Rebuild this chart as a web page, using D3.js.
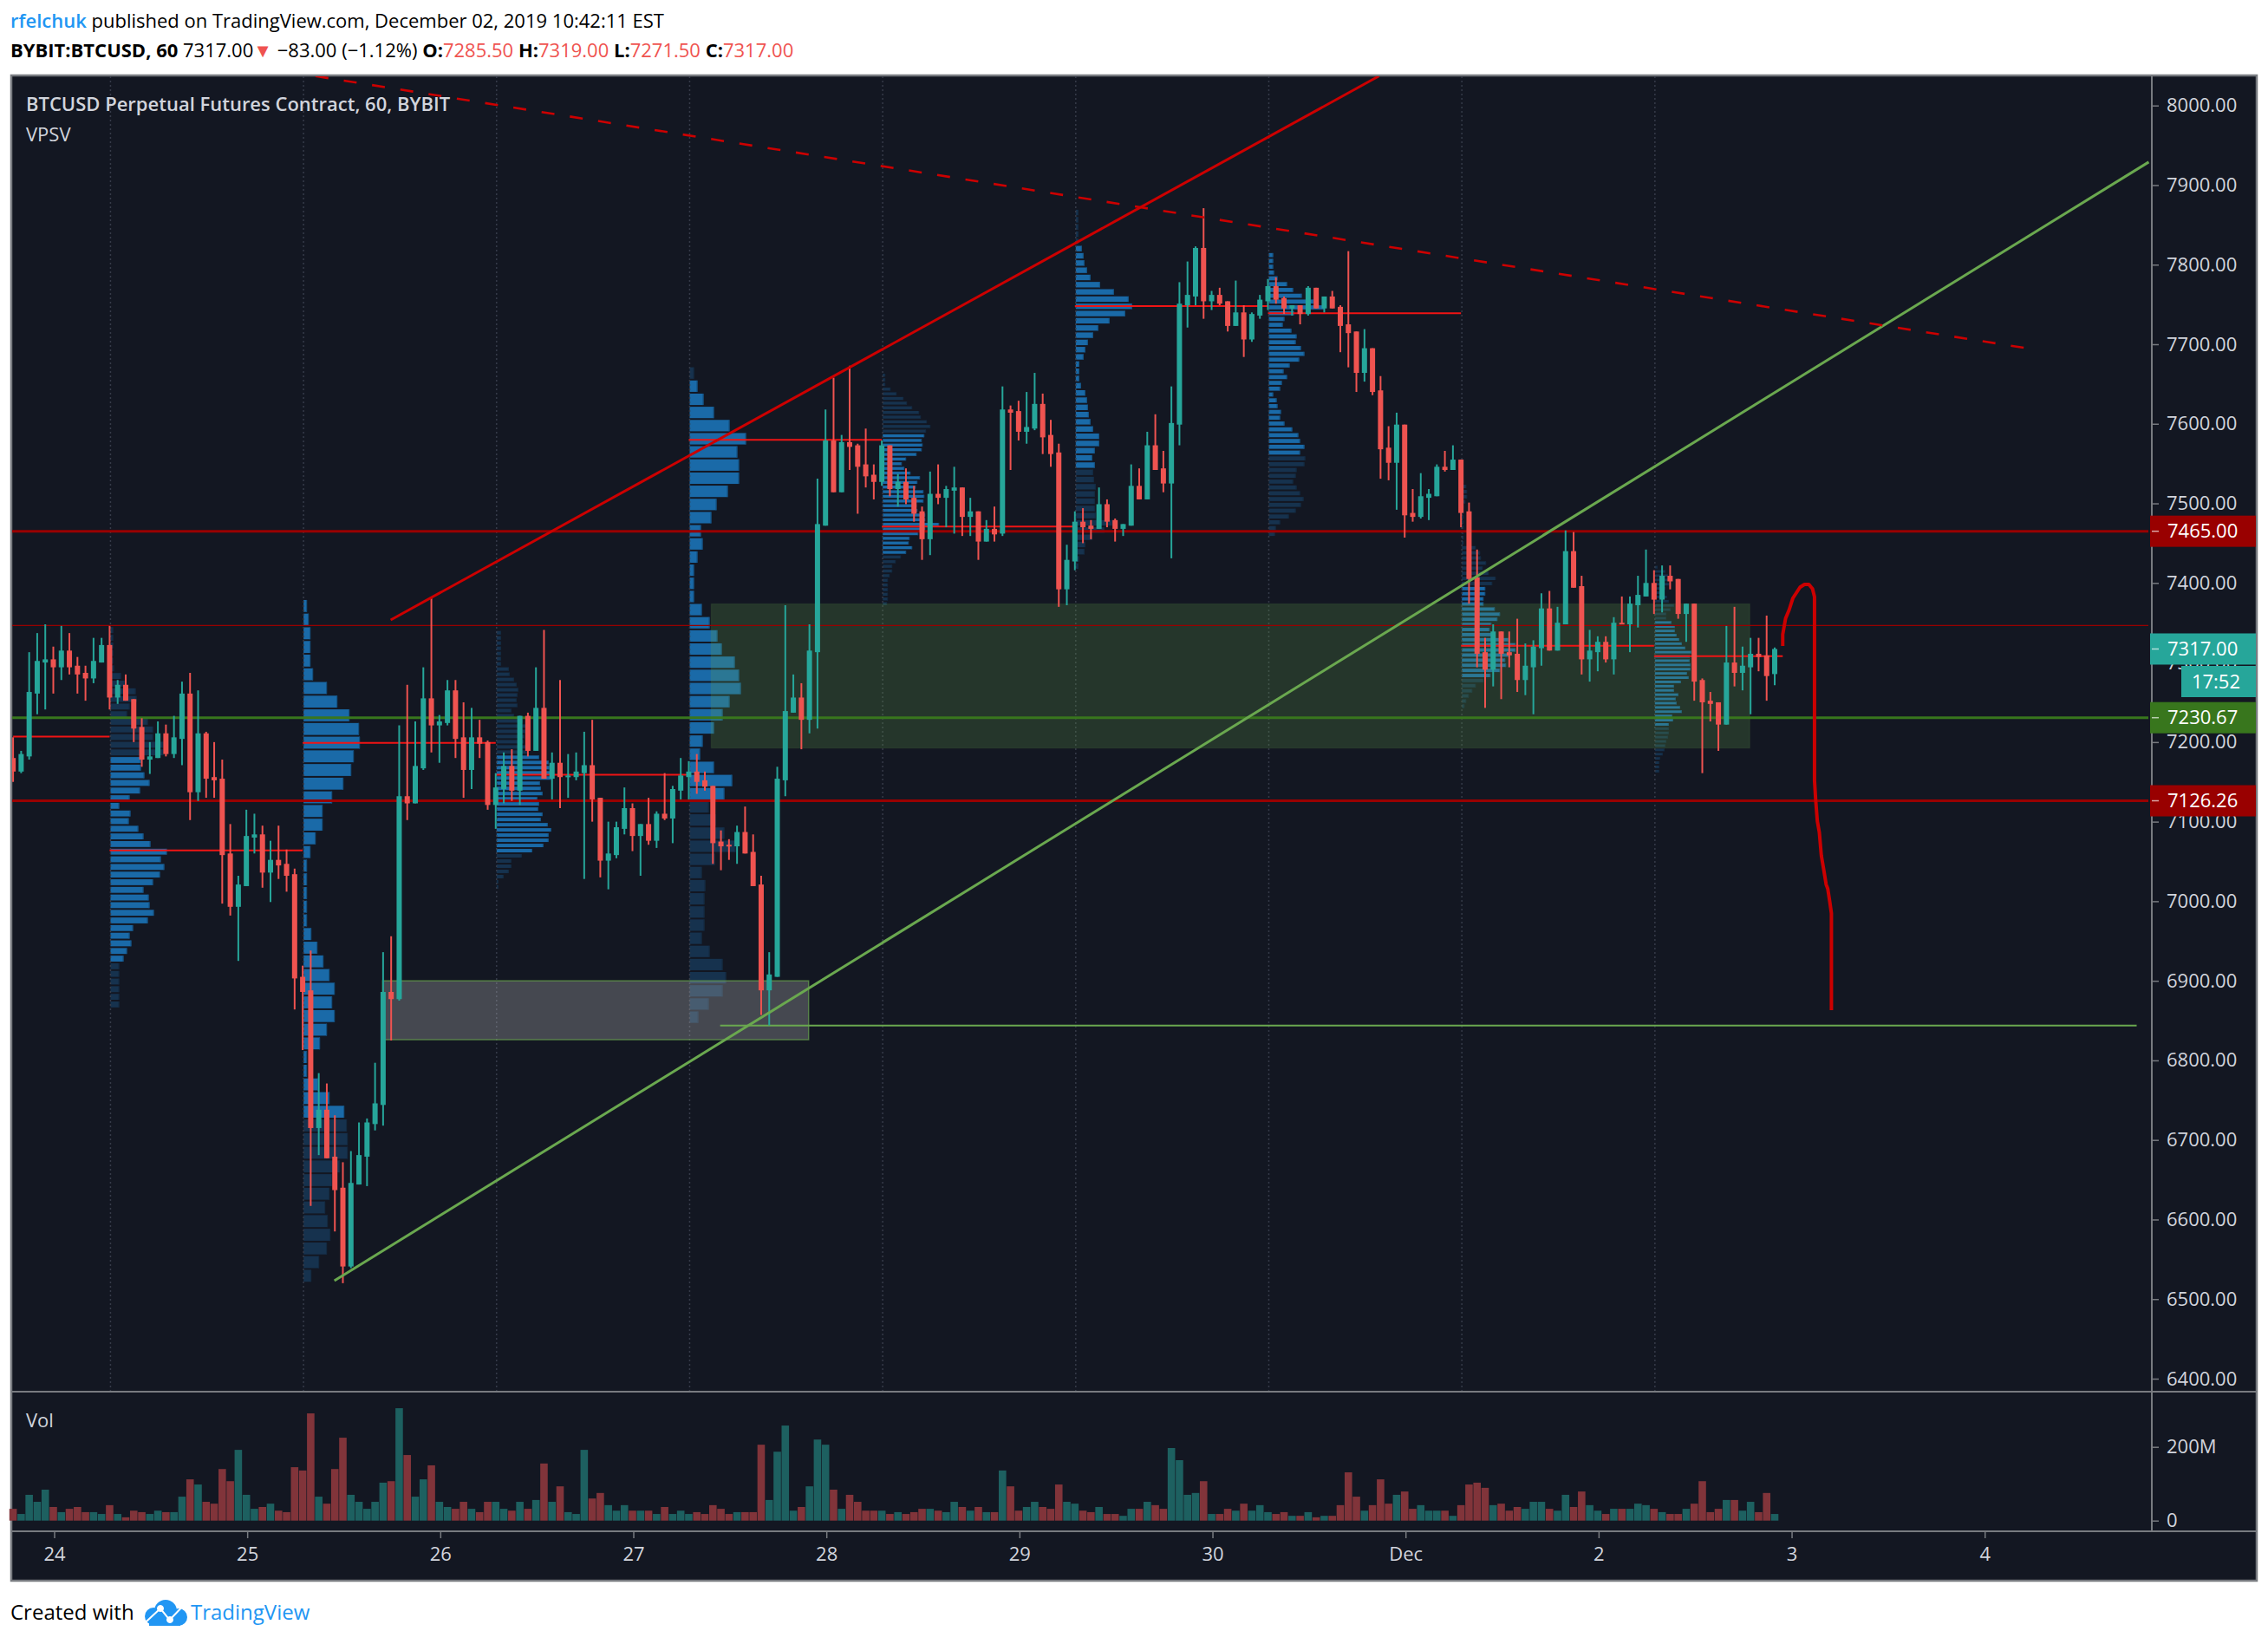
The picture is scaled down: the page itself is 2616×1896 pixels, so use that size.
<!DOCTYPE html>
<html><head><meta charset="utf-8">
<script src="https://cdn.jsdelivr.net/npm/d3@7/dist/d3.min.js"></script>
<style>html,body{margin:0;padding:0;background:#fff}svg{display:block}</style>
</head><body><svg id="c" width="2616" height="1896"></svg>
<script>
// Hourly candles, bar -5 .. 214 : [open, high, low, close]
const firstBar = -5;
const ohlc = [
[7180,7206,7150,7163],[7163,7189,7161,7185],[7182,7313,7178,7263],[7261,7337,7235,7302],[7300,7348,7241,7304],
[7304,7320,7261,7294],[7294,7346,7278,7315],[7315,7337,7285,7294],[7296,7307,7261,7285],[7287,7296,7252,7280],
[7280,7331,7274,7302],[7300,7331,7300,7322],[7322,7346,7241,7256],[7256,7278,7248,7272],[7272,7285,7252,7252],
[7254,7254,7200,7217],[7219,7230,7169,7178],[7178,7200,7160,7182],[7180,7226,7180,7211],[7211,7222,7182,7185],
[7185,7233,7180,7206],[7204,7276,7171,7261],[7261,7287,7102,7137],[7137,7265,7126,7211],[7211,7213,7130,7154],
[7156,7200,7130,7152],[7154,7178,6997,7058],[7060,7097,6982,6993],[6993,7032,6925,7021],[7019,7115,7019,7082],
[7080,7110,7060,7084],[7084,7095,7017,7036],[7036,7076,6999,7052],[7052,7095,7028,7045],[7047,7065,7012,7032],
[7034,7041,6864,6903],[6905,6919,6813,6886],[6888,6938,6617,6715],[6715,6784,6681,6738],[6738,6771,6677,6677],
[6679,6731,6585,6637],[6640,6672,6520,6541],[6541,6686,6539,6646],[6644,6722,6644,6681],[6679,6727,6642,6722],
[6720,6797,6712,6746],[6744,6936,6718,6886],[6886,6956,6825,6877],[6877,7221,6875,7132],[7132,7272,7102,7123],
[7123,7226,7123,7170],[7167,7294,7165,7255],[7255,7381,7187,7221],[7221,7234,7174,7226],[7224,7278,7221,7265],
[7265,7278,7180,7204],[7206,7250,7130,7165],[7165,7243,7141,7206],[7206,7228,7180,7198],[7200,7202,7115,7121],
[7121,7161,7091,7143],[7141,7187,7123,7170],[7170,7191,7126,7139],[7139,7233,7121,7233],[7233,7237,7182,7189],
[7189,7294,7189,7243],[7243,7341,7154,7154],[7154,7187,7128,7174],[7174,7278,7117,7156],[7156,7185,7130,7158],
[7156,7187,7152,7163],[7161,7213,7028,7171],[7171,7228,7100,7128],[7130,7130,7030,7051],[7051,7100,7015,7060],
[7058,7100,7054,7093],[7091,7143,7084,7117],[7117,7123,7063,7082],[7082,7097,7032,7097],[7097,7130,7071,7076],
[7076,7113,7067,7110],[7110,7161,7102,7104],[7104,7145,7073,7141],[7139,7180,7128,7158],[7156,7176,7128,7163],
[7163,7185,7135,7150],[7152,7163,7139,7144],[7145,7145,7047,7073],[7075,7089,7039,7069],[7071,7078,7052,7069],
[7069,7095,7047,7087],[7087,7119,7060,7060],[7062,7084,7019,7019],[7021,7032,6857,6888],[6888,6936,6844,6908],
[6905,7169,6905,7154],[7152,7372,7132,7239],[7237,7285,7237,7256],[7256,7274,7191,7228],[7228,7348,7211,7315],
[7313,7531,7217,7474],[7472,7618,7472,7579],[7579,7658,7514,7514],[7514,7586,7514,7577],[7577,7673,7542,7571],
[7573,7575,7487,7546],[7549,7594,7520,7534],[7536,7549,7505,7527],[7527,7579,7522,7573],[7573,7573,7509,7518],
[7518,7537,7496,7527],[7527,7544,7499,7505],[7507,7522,7477,7487],[7490,7496,7429,7455],[7455,7540,7435,7512],
[7512,7549,7499,7507],[7507,7522,7470,7518],[7516,7546,7462,7520],[7520,7520,7459,7483],[7483,7507,7459,7490],
[7490,7490,7429,7452],[7452,7479,7452,7468],[7468,7496,7452,7461],[7462,7647,7459,7618],[7618,7623,7542,7614],
[7616,7629,7579,7590],[7590,7640,7575,7596],[7594,7664,7592,7625],[7625,7638,7562,7583],[7586,7605,7546,7562],
[7564,7575,7370,7392],[7392,7448,7372,7429],[7427,7490,7416,7477],[7477,7494,7450,7470],[7472,7479,7455,7468],
[7468,7520,7468,7499],[7499,7505,7470,7477],[7479,7481,7452,7468],[7468,7474,7459,7474],[7472,7549,7472,7522],
[7522,7544,7505,7505],[7505,7590,7505,7573],[7573,7612,7542,7542],[7544,7566,7514,7525],[7525,7647,7431,7601],
[7599,7778,7573,7751],[7749,7804,7721,7762],[7760,7823,7749,7821],[7821,7871,7732,7754],[7754,7767,7743,7762],
[7762,7771,7749,7751],[7754,7754,7716,7723],[7723,7780,7723,7740],[7740,7749,7684,7706],[7706,7740,7703,7738],
[7736,7762,7732,7756],[7754,7782,7743,7773],[7773,7784,7751,7756],[7758,7760,7738,7745],[7745,7749,7736,7749],
[7749,7749,7725,7738],[7738,7773,7736,7771],[7771,7771,7745,7745],[7745,7760,7740,7760],[7760,7767,7745,7745],
[7747,7749,7690,7723],[7725,7817,7671,7714],[7716,7716,7640,7664],[7664,7719,7653,7695],[7695,7695,7636,7640],
[7642,7660,7531,7568],[7570,7597,7529,7551],[7551,7614,7492,7599],[7599,7599,7457,7485],[7488,7518,7477,7483],
[7483,7538,7481,7509],[7507,7518,7479,7512],[7509,7549,7509,7546],[7546,7566,7540,7542],[7542,7573,7542,7555],
[7555,7555,7470,7488],[7490,7501,7374,7405],[7407,7442,7294,7311],[7313,7331,7243,7291],[7291,7348,7270,7339],
[7339,7339,7254,7311],[7313,7339,7294,7309],[7311,7355,7263,7278],[7278,7324,7259,7296],[7294,7328,7235,7320],
[7318,7387,7296,7368],[7368,7390,7315,7315],[7315,7370,7315,7350],[7348,7466,7348,7440],[7440,7464,7394,7394],
[7396,7409,7285,7304],[7304,7341,7276,7315],[7313,7333,7289,7326],[7326,7333,7300,7304],[7304,7357,7285,7350],
[7350,7383,7348,7348],[7348,7383,7313,7374],[7372,7409,7344,7385],[7383,7442,7383,7400],[7400,7416,7361,7379],
[7379,7422,7363,7409],[7409,7422,7392,7402],[7405,7405,7355,7361],[7361,7374,7326,7374],[7374,7374,7252,7276],
[7278,7280,7161,7250],[7252,7263,7226,7248],[7250,7250,7189,7222],[7222,7346,7222,7300],[7300,7370,7270,7287],
[7287,7320,7265,7296],[7294,7331,7235,7311],[7311,7331,7289,7307],[7309,7359,7252,7283],[7285.5,7319,7271.5,7317]
];
// Volume in millions, same bars
const volumes = [32,18,70,51,84,37,23,32,37,23,23,18,42,18,9,27,23,18,27,23,23,65,112,98,51,46,140,107,192,70,32,37,46,27,23,145,136,291,65,46,140,225,70,51,32,51,103,107,305,178,65,112,150,51,37,32,51,32,23,51,51,32,27,51,32,56,155,51,93,23,18,192,60,75,42,27,42,27,27,27,18,37,18,27,18,23,18,42,32,18,23,23,23,206,56,187,258,27,37,93,220,206,84,32,70,51,27,27,27,18,23,18,23,32,32,27,23,51,37,27,37,23,23,136,93,27,37,51,37,32,98,51,46,27,23,37,18,18,13,32,32,51,42,32,197,164,70,75,107,18,18,32,27,46,27,42,23,18,23,13,13,23,9,13,13,42,131,65,27,42,112,46,70,79,32,42,27,27,27,13,42,98,103,89,42,46,27,37,32,51,51,32,27,70,37,79,42,27,18,32,32,32,46,42,32,23,18,18,32,46,107,23,32,56,56,27,51,23,75,18];
// Axis
const priceTicks = d3.range(6400,8001,100);
const dayBars = [0,24,48,72,96,120,144,168,192,216,240];
const dayLabels = ["24","25","26","27","28","29","30","Dec","2","3","4"];
const volTicks = [0,200];
// Session boundaries
const sessionBars = [7,31,55,79,103,127,151,175,199];
// Session point-of-control segments: [from bar, to bar, price]
const pocSegments = [[-5,7,7207],[7,31,7064],[31,55,7199],[55,79,7159],[79,103,7580],[103,127,7471],[127,151,7748],[151,175,7739],[175,199,7321],[199,215,7308]];
// Volume profile per session: top price, row size, row volumes, and the value-area row range
const vpTops  = [7344.4,7378.6,7339.6,7671,7663,7869,7814.6,7529.8,7421.4];
const vpSteps = [9.6,17.18,6.52,16.52,5.86,9.07,7.3,6.42,5.34];
const vpArea  = [[17,43],[0,37],[24,42],[1,32],[13,38],[5,35],[0,34],[21,38],[13,37]];
const vpRows1 = [3,3,3,3,3,4,12,17,29,30,22,19,43,49,49,61,61,35,35,39,45,34,22,10,23,21,32,38,46,65,58,62,57,49,38,44,45,50,43,26,22,24,19,15,10,10,10,10,10,10];
const vpRows2 = [4,6,8,8,8,11,27,39,53,64,65,58,55,46,33,22,22,14,8,4,4,4,4,4,9,16,23,30,36,33,36,27,19,4,4,17,30,47,50,51,51,42,33,30,25,28,31,27,18,9];
const vpRows3 = [5,5,5,5,5,5,5,14,15,20,23,25,24,23,24,17,20,30,35,33,32,31,35,35,49,60,61,63,63,50,51,53,47,49,48,53,51,59,63,60,60,54,41,29,17,17,14,8,2,2];
const vpRows4 = [5,9,16,28,46,65,55,57,57,44,31,25,13,15,9,5,5,5,14,23,32,37,52,57,59,46,38,28,15,12,28,49,40,22,30,40,53,29,14,18,17,17,17,14,23,38,42,38,22,10];
const vpRows5 = [3,3,3,9,16,24,28,34,42,44,51,55,50,48,45,46,45,39,27,22,25,32,43,40,38,47,48,47,39,40,49,49,65,49,41,31,30,34,27,21,15,11,11,8,6,6,6,6,6,5];
const vpRows6 = [3,3,3,3,3,7,9,10,13,17,28,44,61,65,57,39,26,20,14,11,9,4,4,4,6,11,13,14,15,17,20,27,27,22,19,22,20,21,23,22,22,22,23,42,33,19,11,10,4,3];
const vpRows7 = [5,5,5,6,10,21,28,38,52,64,29,18,16,26,32,31,37,41,35,24,17,21,15,13,5,9,10,14,13,18,27,34,36,41,36,42,41,32,31,28,32,36,40,37,31,23,13,8,7];
const vpRows8 = [2,5,6,6,4,2,2,2,2,2,2,2,2,16,21,22,28,24,31,39,35,27,27,25,25,38,44,41,34,32,37,54,62,62,54,50,51,44,33,25,16,12,8,5,3];
const vpRows9 = [3,12,15,17,17,12,10,14,16,22,18,13,13,19,23,23,25,28,31,35,42,40,40,41,41,37,39,30,22,22,27,24,25,29,31,20,21,16,16,16,15,13,12,11,9,6,5,5,5];
const vpRows = [vpRows1,vpRows2,vpRows3,vpRows4,vpRows5,vpRows6,vpRows7,vpRows8,vpRows9];
// Horizontal levels
const thickRedLevels = [7465,7126.26];
const thinRedLevels = [7346.6];
const greenLevels = [7230.67];
const supportRay = [82.9,259,6843.7];
// Zones: [from bar, to bar, top price, bottom price]
const greyZone = [40.95,93.9,6900,6826];
const greenZone = [81.8,210.9,7373.6,7192.6];
// Trend lines: [bar, price]
const redTrend = [[41.94,7353.5],[164.8,8037]];
const greenTrend = [[34.94,6523.2],[260.5,7929]];
const dashedTrend = [[32.6,8037],[246.8,7692.6]];
const handDrawn = [[215,7320.8],[215,7335.3],[215.35,7355.3],[215.8,7366.3],[216.25,7380.7],[217.15,7394.6],[217.7,7398.2],[218.25,7398.2],[218.7,7392.7],[218.95,7382.6],[218.95,7151.8],[219.1,7126.8],[219.3,7100.9],[219.55,7086.5],[219.8,7057.3],[220.1,7039.6],[220.4,7021],[220.6,7015.6],[220.85,6999.2],[221.05,6985],[221.05,6863]];
// Price-axis tags
const tagPrices = [7465,7317,7230.67,7126.26];
const tagLabels = ["7465.00","7317.00","7230.67","7126.26"];
const tagColors = ["#990000","#26a69a","#38761d","#990000"];

const BG="#131722", UP="#26a69a", DOWN="#ef5350", BORDER="#787b80", TXT="#d1d4dc";
const FONT="'Open Sans',sans-serif";
const svg=d3.select("#c").style("font-family",FONT);
const L=14,R=2481,T=88,B=1604,VB=1766,FB=1822,OR=2602;

const x=d3.scaleLinear().domain([-5,214]).range([15.1,2047]);
const y=d3.scaleLinear().domain([6400,8000]).range([1590,121.7]);
const yV=d3.scaleLinear().domain([0,200]).range([1753.7,1668.7]);
const w=d3.scaleLinear().domain([0,100]).range([0,100]);

// frame
svg.append("rect").attr("x",13).attr("y",87).attr("width",OR-12).attr("height",FB-86).attr("fill",BG).attr("stroke",BORDER).attr("stroke-width",2.5);
const defs=svg.append("defs");
defs.append("clipPath").attr("id","plot").append("rect").attr("x",L).attr("y",T).attr("width",R-L).attr("height",B-T);
const plot=svg.append("g").attr("clip-path","url(#plot)");

// volume profile
sessionBars.forEach((b,s)=>{
  const rows=vpRows[s], top=vpTops[s], step=vpSteps[s], area=vpArea[s];
  const x0=x(b)+1, h=Math.abs(y(0)-y(step))-2;
  const g=plot.append("g");
  g.selectAll("rect.vp").data(rows).join("rect").attr("class","vp")
    .attr("x",x0).attr("y",(d,i)=>y(top-i*step)).attr("width",d=>w(d)).attr("height",h)
    .attr("fill",(d,i)=>i>=area[0]&&i<=area[1]?"#1a6aa8":"#16324e");
  g.selectAll("rect.ed").data(rows).join("rect").attr("class","ed")
    .attr("x",d=>x0+w(d)-1).attr("y",(d,i)=>y(top-i*step)).attr("width",1).attr("height",h)
    .attr("fill",(d,i)=>i>=area[0]&&i<=area[1]?"#14507f":"#142a40");
});
// session grid
plot.selectAll("line.grid").data(sessionBars).join("line").attr("class","grid")
  .attr("x1",d=>x(d)+1).attr("x2",d=>x(d)+1).attr("y1",T).attr("y2",B)
  .attr("stroke","#363b49").attr("stroke-width",1.5).attr("stroke-dasharray","2 3");

// zones
function zone(z,fill,stroke){
  plot.append("rect").attr("x",x(z[0])).attr("y",y(z[2])).attr("width",x(z[1])-x(z[0])).attr("height",y(z[3])-y(z[2]))
    .attr("fill",fill).attr("stroke",stroke).attr("stroke-width",1.5);
}
zone(greyZone,"rgba(200,200,200,0.28)","rgba(106,168,79,0.65)");
zone(greenZone,"rgba(106,168,79,0.22)","rgba(106,168,79,0.12)");

// levels
function level(ps,color,width){
  plot.selectAll(null).data(ps).join("line").attr("x1",L).attr("x2",2478).attr("y1",d=>y(d)).attr("y2",d=>y(d))
    .attr("stroke",color).attr("stroke-width",width);
}
level(thinRedLevels,"#990000",1.2);
level(thickRedLevels,"#990000",3);
level(greenLevels,"#38761d",3);
plot.append("line").attr("x1",x(supportRay[0])).attr("x2",x(supportRay[1])).attr("y1",y(supportRay[2])).attr("y2",y(supportRay[2])).attr("stroke","#6aa84f").attr("stroke-width",2);
// POC
plot.selectAll("line.poc").data(pocSegments).join("line").attr("class","poc")
  .attr("x1",d=>x(d[0])).attr("x2",d=>x(d[1])).attr("y1",d=>y(d[2])).attr("y2",d=>y(d[2]))
  .attr("stroke","#f01414").attr("stroke-width",2);

// candles
const idx=i=>i+firstBar;
const col=d=>d[3]>=d[0]?UP:DOWN;
plot.selectAll("line.wick").data(ohlc).join("line").attr("class","wick")
  .attr("x1",(d,i)=>x(idx(i))).attr("x2",(d,i)=>x(idx(i))).attr("y1",d=>y(d[1])).attr("y2",d=>y(d[2]))
  .attr("stroke",col).attr("stroke-width",2);
plot.selectAll("rect.body").data(ohlc).join("rect").attr("class","body")
  .attr("x",(d,i)=>x(idx(i))-3).attr("width",6)
  .attr("y",d=>y(Math.max(d[0],d[3]))).attr("height",d=>Math.max(2,Math.abs(y(d[0])-y(d[3]))))
  .attr("fill",col);

// trend lines
const lineGen=d3.line().x(d=>x(d[0])).y(d=>y(d[1]));
plot.append("path").attr("d",lineGen(redTrend)).attr("fill","none").attr("stroke","#cc0000").attr("stroke-width",3);
plot.append("path").attr("d",lineGen(greenTrend)).attr("fill","none").attr("stroke","#6aa84f").attr("stroke-width",3);
plot.append("path").attr("d",lineGen(dashedTrend)).attr("fill","none").attr("stroke","#cc0000").attr("stroke-width",2.6).attr("stroke-dasharray","15 18");
plot.append("path").attr("d",lineGen(handDrawn)).attr("fill","none").attr("stroke","#cc0000").attr("stroke-width",4).attr("stroke-linejoin","round");

// volume pane
svg.selectAll("rect.vol").data(volumes).join("rect").attr("class","vol")
  .attr("x",(d,i)=>x(idx(i))-4.3).attr("width",8.6)
  .attr("y",d=>yV(d)).attr("height",d=>yV(0)-yV(d))
  .attr("fill",(d,i)=>ohlc[i][3]>=ohlc[i][0]?"#1d6060":"#81343a");

// separators
[B+1,VB].forEach(v=>svg.append("line").attr("x1",14).attr("x2",OR).attr("y1",v).attr("y2",v).attr("stroke",BORDER).attr("stroke-width",2));
svg.append("line").attr("x1",R+1).attr("x2",R+1).attr("y1",T).attr("y2",VB).attr("stroke",BORDER).attr("stroke-width",2);

// axes
function styleAxis(g){
  g.select(".domain").remove();
  g.selectAll("line").attr("stroke",BORDER).attr("stroke-width",1.5);
  g.selectAll("text").attr("fill",TXT).attr("font-family",FONT).attr("font-size",22);
}
svg.append("g").attr("transform",`translate(${R+1},0)`)
  .call(d3.axisRight(y).tickValues(priceTicks).tickFormat(d3.format(".2f")).tickSize(8).tickPadding(9)).call(styleAxis);
svg.append("g").attr("transform",`translate(${R+1},0)`)
  .call(d3.axisRight(yV).tickValues(volTicks).tickFormat(d=>d?d+"M":"0").tickSize(8).tickPadding(9)).call(styleAxis);
svg.append("g").attr("transform",`translate(1,${VB+1})`)
  .call(d3.axisBottom(x).tickValues(dayBars).tickFormat((d,i)=>dayLabels[i]).tickSize(7).tickPadding(10)).call(styleAxis);

// tags
const tags=svg.selectAll("g.tag").data(tagPrices).join("g").attr("class","tag").attr("transform",d=>`translate(2480,${y(d)})`);
tags.append("rect").attr("x",0).attr("y",-18).attr("width",122).attr("height",36).attr("fill",(d,i)=>tagColors[i]);
tags.append("line").attr("x1",2).attr("x2",10).attr("stroke","#fff").attr("stroke-opacity",.65).attr("stroke-width",1.5);
tags.append("text").attr("x",20).attr("dy",".35em").attr("fill","#fff").attr("font-size",22).text((d,i)=>tagLabels[i]);
const cd=svg.append("g");
cd.append("rect").attr("x",2516).attr("y",768).attr("width",86).attr("height",36).attr("fill",UP);
cd.append("text").attr("x",2584).attr("y",786).attr("dy",".35em").attr("text-anchor","end").attr("fill","#fff").attr("font-size",22).text("17:52");

// legends
svg.append("text").attr("x",30).attr("y",120).attr("dy",".35em").attr("fill",TXT).attr("font-weight",600).attr("font-size",22).text("BTCUSD Perpetual Futures Contract, 60, BYBIT");
svg.append("text").attr("x",30).attr("y",155).attr("dy",".35em").attr("fill",TXT).attr("font-size",22).text("VPSV");
svg.append("text").attr("x",30).attr("y",1638).attr("dy",".35em").attr("fill",TXT).attr("font-size",22).text("Vol");

// header
const h1=svg.append("text").attr("x",12).attr("y",24).attr("dy",".35em").attr("font-size",22).attr("fill","#000");
h1.append("tspan").attr("fill","#2196f3").attr("font-weight",600).text("rfelchuk");
h1.append("tspan").text(" published on TradingView.com, December 02, 2019 10:42:11 EST");
const h2=svg.append("text").attr("x",12).attr("y",58).attr("dy",".35em").attr("font-size",22).attr("fill","#000");
h2.append("tspan").attr("font-weight",700).text("BYBIT:BTCUSD, 60");
h2.append("tspan").text("  7317.00");
h2.append("tspan").attr("fill",DOWN).text("▼");
h2.append("tspan").text(" −83.00 (−1.12%) ");
[["O:","7285.50"],["H:","7319.00"],["L:","7271.50"],["C:","7317.00"]].forEach(p=>{
  h2.append("tspan").attr("font-weight",700).text(p[0]);
  h2.append("tspan").attr("fill",DOWN).text(p[1]+" ");
});

// footer
svg.append("text").attr("x",12).attr("y",1860).attr("dy",".35em").attr("font-size",24).attr("fill","#000").text("Created with");
const logo=svg.append("g").attr("fill","#2196f3");
logo.append("circle").attr("cx",177).attr("cy",1864).attr("r",10);
logo.append("circle").attr("cx",191).attr("cy",1858).attr("r",13);
logo.append("circle").attr("cx",206).attr("cy",1865).attr("r",10);
logo.append("rect").attr("x",172).attr("y",1862).attr("width",36).attr("height",13);
logo.append("path").attr("d","M167,1871.7L185,1855L195.7,1868.3L209.3,1854").attr("fill","none").attr("stroke","#fff").attr("stroke-width",2);
logo.append("circle").attr("cx",185).attr("cy",1855).attr("r",3.5).attr("stroke","#fff").attr("fill","#fff");
logo.append("circle").attr("cx",196).attr("cy",1868).attr("r",3.5).attr("stroke","#fff").attr("fill","#fff");
svg.append("text").attr("x",220).attr("y",1860).attr("dy",".35em").attr("font-size",24).attr("fill","#2196f3").text("TradingView");
</script></body></html>
